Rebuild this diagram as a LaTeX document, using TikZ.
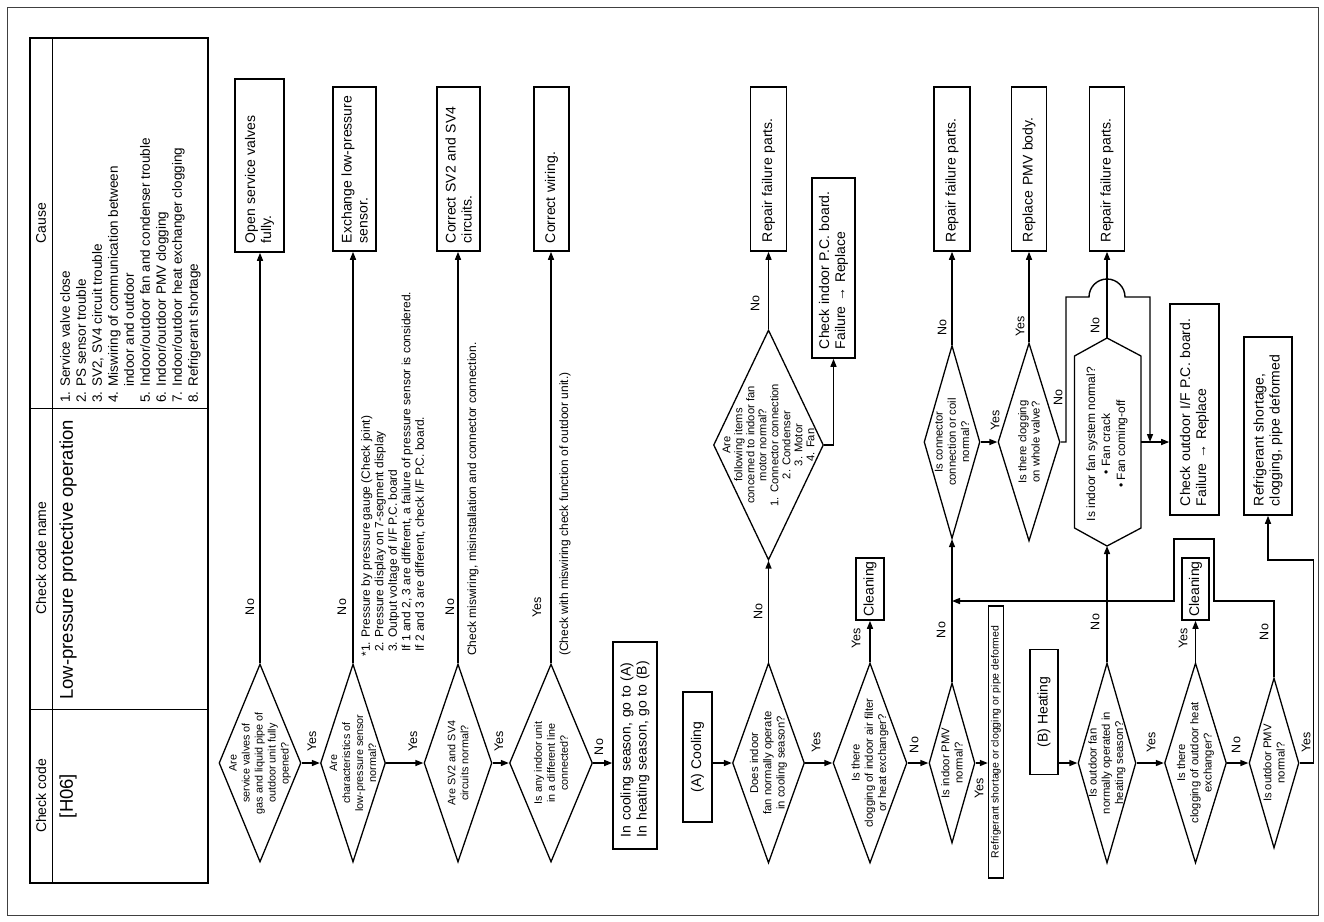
\documentclass[tikz,border=0pt]{standalone}
\usepackage{fontspec}
\setmainfont{Liberation Sans}
\usetikzlibrary{positioning, arrows.meta, shapes.geometric}

\tikzset{
    dia/.style={draw, diamond, rotate=90, inner sep=0pt, line width=1.3pt},
    qtext/.style={rotate=90, align=center, inner sep=0pt, font=\fontsize{10.8}{13}\selectfont},
    rqtext/.style={rotate=90, align=center, inner sep=0pt, font=\fontsize{11.3}{13.3}\selectfont},
    actbox/.style={draw, rotate=90, line width=1.6pt, inner sep=0pt, align=left, font=\fontsize{14}{16}\selectfont},
    lbl/.style={rotate=90, inner sep=0pt, font=\fontsize{12.5}{13}\selectfont},
    notetxt/.style={rotate=90, inner sep=0pt, align=left, font=\fontsize{12}{13.5}\selectfont},
    headtxt/.style={rotate=90, inner sep=0pt, font=\fontsize{14}{16}\selectfont},
    bigtxt/.style={rotate=90, inner sep=0pt, font=\fontsize{18.5}{20}\selectfont},
    arr/.style={line width=1.4pt, -{Triangle[length=8pt, width=6pt]}},
}

\begin{document}
\begin{tikzpicture}[x=1pt, y=-1pt]
    \useasboundingbox (0,0) rectangle (1324,921);
    \draw[line width=0.8pt, black!75] (7,7) rectangle (1318,915);

    % table
    \draw[line width=1.8pt] (30,38) rectangle (208,883);
    \draw[line width=0.9pt] (52,38) -- (52,883);
    \draw[line width=0.9pt] (30,408) -- (208,408);
    \draw[line width=0.9pt] (30,709) -- (208,709);
    \node[headtxt] (hcode) at (41,796) {Check code};
    \node[headtxt] (hname) at (41,558) {Check code name};
    \node[headtxt] (hcause) at (41,223) {Cause};
    \node[bigtxt] (code) at (68,796) {[H06]};
    \node[bigtxt, anchor=west] (name) at (68,700) {Low-pressure protective operation};
    \node[rotate=90, anchor=north west, inner sep=0pt, align=left,
        font=\fontsize{13.5}{16}\selectfont] (causes) at (60,403) {
        1. Service valve close\\
        2. PS sensor trouble\\
        3. SV2, SV4 circuit trouble\\
        4. Miswiring of communication between\\
        \phantom{4. }indoor and outdoor\\
        5. Indoor/outdoor fan and condenser trouble\\
        6. Indoor/outdoor PMV clogging\\
        7. Indoor/outdoor heat exchanger clogging\\
        8. Refrigerant shortage};

    % first checks
    \node[dia, minimum width=198pt, minimum height=82pt] (d1) at (260,763) {};
    \node[qtext] (d1t) at (d1) {Are\\service valves of\\gas and liquid pipe of\\outdoor unit fully\\opened?};
    \node[dia, minimum width=198pt, minimum height=65pt] (d2) at (353,763) {};
    \node[qtext] (d2t) at (d2) {Are\\characteristics of\\low-pressure sensor\\normal?};
    \node[dia, minimum width=198pt, minimum height=68pt] (d3) at (458,763) {};
    \node[qtext] (d3t) at (d3) {Are SV2 and SV4\\circuits normal?};
    \node[dia, minimum width=198pt, minimum height=83pt] (d4) at (551,763) {};
    \node[qtext] (d4t) at (d4) {Is any indoor unit\\in a different line\\connected?};

    \node[actbox, minimum width=173pt, minimum height=49pt, text width=155pt] (b1) at (259.5,165.5) {Open service valves\\fully.};
    \node[actbox, minimum width=164pt, minimum height=43pt, text width=148pt] (b2) at (354.5,169) {Exchange low-pressure\\sensor.};
    \node[actbox, minimum width=164pt, minimum height=43pt, text width=148pt] (b3) at (458.5,169) {Correct SV2 and SV4\\circuits.};
    \node[actbox, minimum width=164pt, minimum height=35pt, text width=148pt] (b4) at (551.5,169) {Correct wiring.};
    \node[actbox, minimum width=207pt, minimum height=44pt, text width=183pt] (go) at (635,745.5) {In cooling season, go to (A)\\In heating season, go to (B)};

    \node[notetxt, anchor=north west] (note1) at (361,652) {\llap{*}1. Pressure by pressure gauge (Check joint)\\
        2. Pressure display on 7-segment display\\
        3. Output voltage of I/F P.C. board\\
        If 1 and 2, 3 are different, a failure of pressure sensor is considered.\\
        If 2 and 3 are different, check I/F P.C. board.};
    \node[notetxt, anchor=west] (note2) at (473,656) {Check miswiring, misinstallation and connector connection.};
    \node[notetxt, anchor=west] (note3) at (565,656) {(Check with miswiring check function of outdoor unit.)};

    \draw[arr] (d1.south) -- (d2.north);
    \draw[arr] (d2.south) -- (d3.north);
    \draw[arr] (d3.south) -- (d4.north);
    \draw[arr] (d4.south) -- (d4.south -| go.north);
    \draw[arr] (d1.east) -- (d1.east |- b1.west);
    \draw[arr] (d2.east) -- (d2.east |- b2.west);
    \draw[arr] (d3.east) -- (d3.east |- b3.west);
    \draw[arr] (d4.east) -- (d4.east |- b4.west);

    \node[lbl] (l1) at (250,607) {No};
    \node[lbl] (l2) at (342,607) {No};
    \node[lbl] (l3) at (450,607) {No};
    \node[lbl] (l4) at (537,607) {Yes};
    \node[lbl] (l5) at (312,741) {Yes};
    \node[lbl] (l6) at (413,741) {Yes};
    \node[lbl] (l7) at (499,741) {Yes};
    \node[lbl] (l8) at (599,747) {No};

    % (A) cooling
    \node[actbox, align=center, minimum width=130pt, minimum height=29pt] (cool) at (697.5,757) {(A) Cooling};
    \node[dia, minimum width=200pt, minimum height=72pt] (c1) at (768.5,763) {};
    \node[rqtext] (c1t) at (c1) {Does indoor\\fan normally operate\\in cooling season?};
    \node[dia, minimum width=230pt, minimum height=110pt] (c2) at (768.5,445) {};
    \node[rqtext, font=\fontsize{11.2}{12}\selectfont] (c2t) at (c2) {Are\\following items\\concerned to indoor fan\\motor normal?\\1. Connector connection\\2. Condenser\\3. Motor\\4. Fan};
    \node[dia, minimum width=200pt, minimum height=74pt] (c3) at (870,763) {};
    \node[rqtext] (c3t) at (c3) {Is there\\clogging of indoor air filter\\or heat exchanger?};
    \node[dia, minimum width=160pt, minimum height=46pt] (c4) at (952,763) {};
    \node[rqtext] (c4t) at (c4) {Is indoor PMV\\normal?};
    \node[dia, minimum width=193pt, minimum height=56pt] (c5) at (952,442) {};
    \node[rqtext] (c5t) at (c5) {Is connector\\connection or coil\\normal?};
    \node[dia, minimum width=198pt, minimum height=62pt] (c6) at (1029,442) {};
    \node[rqtext] (c6t) at (c6) {Is there clogging\\on whole valve?};

    \node[actbox, minimum width=164pt, minimum height=36pt, text width=146pt] (r1) at (768.5,169) {Repair failure parts.};
    \node[actbox, minimum width=180pt, minimum height=43pt, text width=162pt] (cib) at (833.5,268) {Check indoor P.C. board.\\Failure → Replace};
    \node[actbox, align=center, minimum width=62pt, minimum height=28pt] (cl1) at (870,589) {Cleaning};
    \node[actbox, minimum width=164pt, minimum height=36pt, text width=146pt] (r5) at (952,169) {Repair failure parts.};
    \node[actbox, minimum width=164pt, minimum height=35pt, text width=146pt] (r6) at (1029,169) {Replace PMV body.};
    \node[draw, rotate=90, line width=1.3pt, inner sep=0pt, minimum width=272pt, minimum height=15pt,
        font=\fontsize{10.5}{11}\selectfont] (rf1) at (996,742) {Refrigerant shortage or clogging or pipe deformed};

    \draw[arr] (c1.north -| cool.south) -- (c1.north);
    \draw[arr] (c1.east) -- (c2.west);
    \draw[arr] (c2.east) -- (c2.east |- r1.west);
    \draw[arr] (c2.south) -| (cib.west);
    \draw[arr] (c1.south) -- (c3.north);
    \draw[arr] (c3.east) -- (c3.east |- cl1.west);
    \draw[arr] (c3.south) -- (c4.north);
    \draw[arr] (c4.south) -- (c4.south -| rf1.north);
    \draw[arr] (c4.east) -- (c5.west);
    \draw[arr] (c5.east) -- (c5.east |- r5.west);
    \draw[arr] (c5.south) -- (c6.north);
    \draw[arr] (c6.east) -- (c6.east |- r6.west);

    \node[lbl] (m1) at (758,612) {No};
    \node[lbl] (m2) at (755,304) {No};
    \node[lbl] (m3) at (816,742) {Yes};
    \node[lbl] (m4) at (856,638) {Yes};
    \node[lbl] (m5) at (914,745) {No};
    \node[lbl] (m6) at (941,630) {No};
    \node[lbl] (m7) at (979,788) {Yes};
    \node[lbl] (m8) at (942,328) {No};
    \node[lbl] (m9) at (995,420) {Yes};
    \node[lbl] (m10) at (1020,326) {Yes};
    \node[lbl] (m11) at (1058,398) {No};

    % (B) heating
    \node[actbox, align=center, minimum width=125pt, minimum height=28pt] (heat) at (1044,712) {(B) Heating};
    \node[dia, minimum width=200pt, minimum height=58pt] (h1) at (1107,763) {};
    \node[rqtext] (h1t) at (h1) {Is outdoor fan\\normally operated in\\heating season?};
    \node[dia, minimum width=200pt, minimum height=62pt] (h2) at (1195.5,763) {};
    \node[rqtext] (h2t) at (h2) {Is there\\clogging of outdoor heat\\exchanger?};
    \node[dia, minimum width=170pt, minimum height=50pt] (h3) at (1274,763) {};
    \node[rqtext] (h3t) at (h3) {Is outdoor PMV\\normal?};
    \draw[line width=1.3pt] (1074.5,356) -- (1107,338) -- (1141,356) -- (1141,528) -- (1107,546) -- (1074.5,528) -- cycle;
    \node[rqtext, font=\fontsize{12}{15}\selectfont] (h4) at (1107,444) {Is indoor fan system normal?\\• Fan crack\\• Fan coming-off};
    \coordinate (h4top) at (1107,338);
    \coordinate (h4bot) at (1107,546);
    \coordinate (h4out) at (1141,442);

    \node[actbox, minimum width=164pt, minimum height=35pt, text width=146pt] (r4) at (1107,169) {Repair failure parts.};
    \node[actbox, minimum width=211pt, minimum height=49pt, text width=193pt] (cob) at (1194.5,409.5) {Check outdoor I/F P.C. board.\\Failure → Replace};
    \node[actbox, minimum width=178pt, minimum height=48pt, text width=160pt] (rfb) at (1268,426) {Refrigerant shortage,\\clogging, pipe deformed};
    \node[actbox, align=center, minimum width=62pt, minimum height=27pt] (cl2) at (1195.5,589) {Cleaning};

    \draw[arr] (h1.north -| heat.south) -- (h1.north);
    \draw[arr] (h1.east) -- (h4bot);
    \draw[arr] (h4top) -- (h4top |- r4.west);
    \draw[arr] (h4out) -- (h4out -| cob.north);
    \draw[arr] (c6.south) -| (1066,297) -- (1089,297) arc (180:360:18) -- (1150,297) -- (1150,442);
    \draw[arr] (h1.south) -- (h2.north);
    \draw[arr] (h2.east) -- (h2.east |- cl2.west);
    \draw[arr] (h2.south) -- (h3.north);
    \draw[arr] (h3.east) |- (1214,601) -- (1214,539) -- (1174,539) -- (1174,601) -- (c4.east |- 0,601);
    \draw[arr] (h3.south) -- (1313.5,763) -- (1313.5,560) -| (rfb.west);

    \node[lbl] (n1) at (1095,326) {No};
    \node[lbl] (n2) at (1095,622) {No};
    \node[lbl] (n3) at (1151,742) {Yes};
    \node[lbl] (n4) at (1183,638) {Yes};
    \node[lbl] (n5) at (1236,745) {No};
    \node[lbl] (n6) at (1264,632) {No};
    \node[lbl] (n7) at (1306,742) {Yes};
\end{tikzpicture}
\end{document}
